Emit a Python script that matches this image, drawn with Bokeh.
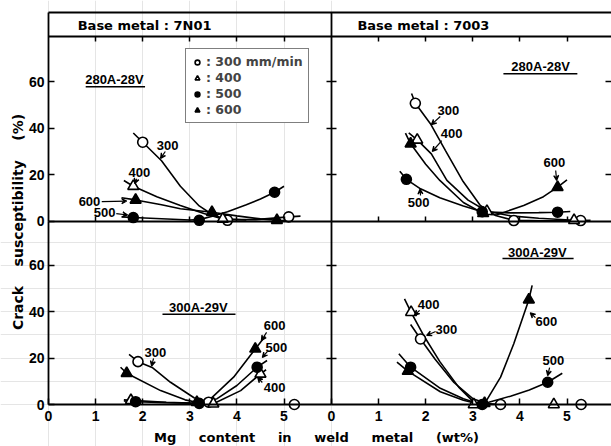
import math
from bokeh.plotting import figure
from bokeh.models import (Range1d, LinearAxis, FixedTicker, Label, Arrow, VeeHead,
                          Legend, LegendItem)
from bokeh.embed import file_html
from bokeh.resources import INLINE

# ---------------- data ----------------
speeds = ["300", "400", "500", "600"]
x_ticks = [0, 1, 2, 3, 4, 5]
y_ticks = [0, 20, 40, 60]
inner_x_ticks = [1, 2, 3, 4, 5]
inner_y_ticks = [20, 40, 60]

base_metals = ["7N01", "7003"]
conditions = ["280A-28V", "300A-29V"]

# Top-left : 7N01, 280A-28V  (points)
tl_300_x = [2.0, 3.8, 5.1];    tl_300_y = [34, 0.3, 1.8]
tl_400_x = [1.8, 3.7];         tl_400_y = [15, 0.9]
tl_500_x = [1.8, 3.2, 4.8];    tl_500_y = [1.5, 0.3, 12.4]
tl_600_x = [1.85, 3.47, 4.85]; tl_600_y = [9.1, 3.8, 0.3]
# curves
tl_300_cx = [1.8, 2.0, 2.4, 2.8, 3.2, 3.5, 3.8, 4.4, 5.1, 5.35]
tl_300_cy = [38, 34, 26, 15, 6.5, 2.5, 0.6, 0.6, 1.8, 2.1]
tl_400_cx = [1.6, 1.8, 2.3, 2.8, 3.3, 3.7, 4.2]
tl_400_cy = [17.5, 15, 10.5, 6.7, 3.2, 0.9, 0.4]
tl_500_cx = [1.55, 1.8, 2.4, 3.0, 3.2, 3.5, 3.8, 4.2, 4.5, 4.8, 5.0]
tl_500_cy = [1.8, 1.5, 1.0, 0.4, 0.6, 2.2, 4.0, 7.0, 9.5, 12.4, 15.0]
tl_600_cx = [1.55, 1.85, 2.4, 2.8, 3.47, 4.0, 4.5, 4.85, 5.0]
tl_600_cy = [10, 9.1, 7, 5.3, 3.8, 2.2, 0.9, 0.3, 0.2]

# Top-right : 7003, 280A-28V
tr_300_x = [1.78, 3.87, 5.29]; tr_300_y = [50.8, 0.2, 0.2]
tr_400_x = [1.82, 3.3, 5.15];  tr_400_y = [35, 4.2, 0.3]
tr_500_x = [1.59, 3.2, 4.8];   tr_500_y = [18, 4.0, 3.8]
tr_600_x = [1.68, 3.22, 4.8];  tr_600_y = [33.3, 3.3, 14.6]
tr_300_cx = [1.70, 1.78, 2.1, 2.42, 2.78, 3.16, 3.48, 3.87, 4.5, 5.29, 5.5]
tr_300_cy = [55, 50.8, 42, 30.4, 17.5, 6.7, 2.4, 0.3, 0.1, 0.2, 0.3]
tr_400_cx = [1.64, 1.82, 2.12, 2.45, 2.9, 3.3, 3.8, 4.4, 5.15, 5.35]
tr_400_cy = [38, 35, 29, 17.5, 9, 4.2, 2.2, 1.2, 0.3, 0.2]
tr_500_cx = [1.45, 1.59, 1.89, 2.3, 2.8, 3.2, 3.8, 4.4, 4.8, 5.07]
tr_500_cy = [21.5, 18, 13.9, 10, 6.5, 4.0, 3.5, 3.6, 3.8, 4.1]
tr_600_cx = [1.57, 1.68, 2.0, 2.3, 2.8, 3.22, 3.5, 4.08, 4.5, 4.8, 5.0]
tr_600_cy = [37.9, 33.3, 24.5, 17.5, 8, 3.3, 2.6, 6.7, 10.5, 14.6, 17.8]

# Bottom-left : 7N01, 300A-29V
bl_300_x = [1.9, 3.4, 5.22];   bl_300_y = [18.5, 1.0, 0]
bl_400_x = [1.75, 3.5, 4.5];   bl_400_y = [1.8, 0.3, 13.2]
bl_500_x = [1.85, 3.2, 4.43];  bl_500_y = [1.2, 0.5, 16.1]
bl_600_x = [1.66, 3.15, 4.39]; bl_600_y = [13.5, 1.0, 24.0]
bl_300_cx = [1.71, 1.9, 2.2, 2.59, 3.09, 3.4]
bl_300_cy = [21.6, 18.5, 16.0, 9.6, 2.9, 1.0]
bl_400_cx = [1.6, 1.75, 2.5, 3.5, 4.08, 4.5, 4.62]
bl_400_cy = [2.0, 1.8, 1.0, 0.3, 6.0, 13.2, 15.0]
bl_500_cx = [1.6, 1.85, 2.5, 3.2, 3.58, 4.0, 4.43, 4.64]
bl_500_cy = [1.5, 1.2, 0.8, 0.5, 2.5, 8.2, 16.1, 19.0]
bl_600_cx = [1.53, 1.66, 2.38, 2.9, 3.15, 3.44, 3.93, 4.39, 4.6]
bl_600_cy = [16.1, 13.5, 6.0, 2.0, 1.0, 2.4, 11.8, 24.0, 29.5]

# Bottom-right : 7003, 300A-29V
br_300_x = [1.89, 3.59, 5.30]; br_300_y = [28.3, 0, 0]
br_400_x = [1.69, 3.02, 4.72]; br_400_y = [39.8, 0, 0]
br_500_x = [1.68, 3.2, 4.59];  br_500_y = [16.1, 0, 9.6]
br_600_x = [1.62, 3.25, 4.19]; br_600_y = [14.4, 0.5, 45.2]
br_300_cx = [1.68, 1.89, 2.2, 2.6, 3.0, 3.3, 3.59]
br_300_cy = [34.5, 28.3, 19.5, 9.5, 2.5, 0.4, 0]
br_400_cx = [1.55, 1.69, 1.95, 2.3, 2.7, 3.02, 3.2]
br_400_cy = [45.6, 39.8, 30, 18.5, 7.5, 1.0, 0.2]
br_500_cx = [1.43, 1.68, 2.31, 2.8, 3.1, 3.34, 3.8, 4.2, 4.59, 4.9]
br_500_cy = [21.9, 16.1, 7.0, 2.5, 0.5, 1.0, 3.6, 6.3, 9.6, 13.5]
br_600_cx = [1.39, 1.62, 2.31, 2.8, 3.1, 3.27, 3.59, 3.87, 4.19, 4.26]
br_600_cy = [18.3, 14.4, 5.5, 1.8, 0.3, 1.0, 11.8, 26.2, 45.2, 51.4]

# ---------------- layout geometry ----------------
W, H = 611, 446
XL0, XR0, PXX = 48.0, 331.0, 47.1      # screen x of panel origins, px per wt%
YT0, YB0, PXY = 220.5, 404.0, 2.317    # screen y of panel origins, px per %

PANEL_W = (XR0 - XL0) / PXX
R_END = (W - XR0) / PXX
TOP_T = (YT0 - 36) / PXY       # top of upper panels (header bottom)
HEAD_T = (YT0 - 12) / PXY      # header top
HEAD_MID = (YT0 - 25) / PXY    # header text centre
BOT_TOP = (YB0 - YT0) / PXY    # top of lower panels

p = figure(width=W, height=H, output_backend="svg", toolbar_location=None,
           x_axis_location=None, y_axis_location=None, min_border=0,
           x_range=Range1d(-XL0 / PXX, (W - XL0) / PXX),
           y_range=Range1d(-(H - YB0) / PXY, YB0 / PXY))
p.extra_x_ranges = {"R": Range1d(-XR0 / PXX, (W - XR0) / PXX)}
p.extra_y_ranges = {"T": Range1d(-(H - YT0) / PXY, YT0 / PXY)}
p.outline_line_color = None
p.background_fill_color = "white"
p.border_fill_color = "white"

NUM_FONT = "Liberation Sans"
TXT_FONT = "DejaVu Sans"


def add_axis(side, xr, yr, loc, ticks, bounds, labels=False, tin=5, tout=0,
             line=True, standoff=4):
    ax = LinearAxis(x_range_name=xr, y_range_name=yr, fixed_location=loc,
                    bounds=bounds, ticker=FixedTicker(ticks=ticks, minor_ticks=[]))
    ax.axis_line_width = 1.8
    ax.axis_line_color = "black" if line else None
    ax.major_tick_line_width = 1.5
    ax.major_tick_line_color = "black"
    ax.major_tick_in = tin
    ax.major_tick_out = tout
    ax.minor_tick_in = 0
    ax.minor_tick_out = 0
    ax.major_label_standoff = standoff
    ax.major_label_text_font = NUM_FONT
    ax.major_label_text_font_style = "bold"
    ax.major_label_text_font_size = "14px"
    ax.major_label_text_color = "black"
    if not labels:
        ax.major_label_overrides = {t: "" for t in ticks}
    p.add_layout(ax, side)


# left axes (labelled)
add_axis("left", "default", "T", 0, y_ticks, (0, HEAD_T), labels=True, tin=6)
add_axis("left", "default", "default", 0, y_ticks, (0, BOT_TOP), labels=True, tin=6)
# divider between the two columns
add_axis("left", "R", "T", 0, inner_y_ticks, (0, HEAD_T), tin=5, tout=5)
add_axis("left", "R", "default", 0, inner_y_ticks, (0, BOT_TOP), tin=5, tout=5)
# bottom axes (labelled)
add_axis("below", "default", "default", 0, x_ticks, (0, PANEL_W), labels=True, tin=6, standoff=6)
add_axis("below", "R", "default", 0, x_ticks, (0, R_END), labels=True, tin=6, standoff=6)
# zero line of the upper panels
add_axis("below", "default", "T", 0, inner_x_ticks, (0, PANEL_W), tin=5)
add_axis("below", "R", "T", 0, inner_x_ticks, (0, R_END), tin=5)
# top of the upper panels
add_axis("above", "default", "T", TOP_T, inner_x_ticks, (0, PANEL_W), tin=5)
add_axis("above", "R", "T", TOP_T, inner_x_ticks, (0, R_END), tin=5)
# header top line
add_axis("above", "default", "T", HEAD_T, [], (0, (W - XL0) / PXX))
# right-edge ticks
add_axis("right", "R", "T", R_END, inner_y_ticks, (0, TOP_T), tin=6, line=False)
add_axis("right", "R", "default", R_END, inner_y_ticks, (0, BOT_TOP), tin=6, line=False)

panels = {
    "tl": ("default", "T", {
        "300": (tl_300_x, tl_300_y, tl_300_cx, tl_300_cy),
        "400": (tl_400_x, tl_400_y, tl_400_cx, tl_400_cy),
        "500": (tl_500_x, tl_500_y, tl_500_cx, tl_500_cy),
        "600": (tl_600_x, tl_600_y, tl_600_cx, tl_600_cy)}),
    "tr": ("R", "T", {
        "300": (tr_300_x, tr_300_y, tr_300_cx, tr_300_cy),
        "400": (tr_400_x, tr_400_y, tr_400_cx, tr_400_cy),
        "500": (tr_500_x, tr_500_y, tr_500_cx, tr_500_cy),
        "600": (tr_600_x, tr_600_y, tr_600_cx, tr_600_cy)}),
    "bl": ("default", "default", {
        "300": (bl_300_x, bl_300_y, bl_300_cx, bl_300_cy),
        "400": (bl_400_x, bl_400_y, bl_400_cx, bl_400_cy),
        "500": (bl_500_x, bl_500_y, bl_500_cx, bl_500_cy),
        "600": (bl_600_x, bl_600_y, bl_600_cx, bl_600_cy)}),
    "br": ("R", "default", {
        "300": (br_300_x, br_300_y, br_300_cx, br_300_cy),
        "400": (br_400_x, br_400_y, br_400_cx, br_400_cy),
        "500": (br_500_x, br_500_y, br_500_cx, br_500_cy),
        "600": (br_600_x, br_600_y, br_600_cx, br_600_cy)}),
}

marker_style = {"300": ("circle", "white", 10), "400": ("triangle", "white", 11),
                "500": ("circle", "black", 10), "600": ("triangle", "black", 11)}

# curves first
for key, (xr, yr, series) in panels.items():
    for s in speeds:
        _, _, cx, cy = series[s]
        p.line(cx, cy, line_color="black", line_width=1.6,
               x_range_name=xr, y_range_name=yr)

legend_renderers = {}
for key, (xr, yr, series) in panels.items():
    for s in speeds:
        px, py, _, _ = series[s]
        m, fc, sz = marker_style[s]
        r = p.scatter(px, py, marker=m, size=sz, fill_color=fc, line_color="black",
                      line_width=1.6, x_range_name=xr, y_range_name=yr)
        if key == "tl":
            legend_renderers[s] = r


def add_text(text, x, y, xr="default", yr="default", size="13px", font=NUM_FONT,
             align="center", baseline="middle", angle=0.0, units="data"):
    kw = dict(x=x, y=y, text=text, text_font=font, text_font_size=size,
              text_font_style="bold", text_color="black", text_align=align,
              text_baseline=baseline, angle=angle)
    if units == "screen":
        kw.update(x_units="screen", y_units="screen")
    else:
        kw.update(x_range_name=xr, y_range_name=yr)
    p.add_layout(Label(**kw))


def add_arrow(x0, y0, x1, y1, xr, yr):
    p.add_layout(Arrow(end=VeeHead(size=5, line_width=1.2, line_color="black",
                                   fill_color="black"),
                       x_start=x0, y_start=y0, x_end=x1, y_end=y1,
                       x_range_name=xr, y_range_name=yr,
                       line_width=1.2, line_color="black"))


# header
add_text("Base metal : " + base_metals[0], 0.62, HEAD_MID, "default", "T",
         font=TXT_FONT, align="left", baseline="middle")
add_text("Base metal : " + base_metals[1], 0.55, HEAD_MID, "R", "T",
         font=TXT_FONT, align="left", baseline="middle")

# condition labels with underline
cond_labels = [
    (conditions[0], 1.40, 61.1, 0.79, 2.05, 57.9, "default", "T"),
    (conditions[0], 4.44, 66.7, 3.65, 5.22, 63.6, "R", "T"),
    (conditions[1], 3.18, 41.9, 2.42, 3.97, 39.0, "default", "default"),
    (conditions[1], 4.37, 65.6, 3.63, 5.14, 63.0, "R", "default"),
]
for txt, x, y, u0, u1, uy, xr, yr in cond_labels:
    add_text(txt, x, y, xr, yr, size="13px")
    p.segment([u0], [uy], [u1], [uy], line_color="black", line_width=1.5,
              x_range_name=xr, y_range_name=yr)

# speed labels with arrows: text, tx, ty, arrow start, arrow end
speed_labels = [
    ("300", 2.53, 32.6, 2.48, 30.0, 2.38, 27.0, "default", "T"),
    ("400", 1.93, 20.9, 1.87, 18.2, 1.83, 16.2, "default", "T"),
    ("600", 0.87, 8.4, 1.13, 8.4, 1.66, 8.6, "default", "T"),
    ("500", 1.19, 3.7, 1.44, 3.2, 1.68, 2.6, "default", "T"),
    ("300", 2.48, 47.7, 2.31, 45.1, 2.12, 41.6, "R", "T"),
    ("400", 2.55, 37.8, 2.34, 34.7, 2.14, 30.0, "R", "T"),
    ("600", 4.73, 25.2, 4.76, 21.8, 4.78, 17.5, "R", "T"),
    ("500", 1.85, 8.0, 1.89, 11.0, 1.88, 13.8, "R", "T"),
    ("300", 2.27, 22.4, 2.23, 19.9, 2.19, 16.6, "default", "default"),
    ("600", 4.80, 34.1, 4.63, 31.1, 4.52, 27.6, "default", "default"),
    ("500", 4.84, 24.6, 4.65, 22.9, 4.54, 20.3, "default", "default"),
    ("400", 4.80, 7.3, 4.54, 9.5, 4.44, 11.7, "default", "default"),
    ("400", 2.06, 43.2, 1.87, 40.6, 1.76, 38.5, "R", "default"),
    ("300", 2.44, 32.4, 2.21, 31.5, 2.02, 29.8, "R", "default"),
    ("600", 4.56, 35.8, 4.33, 37.5, 4.22, 39.6, "R", "default"),
    ("500", 4.71, 19.0, 4.63, 15.9, 4.59, 12.5, "R", "default"),
]
for txt, tx, ty, x0, y0, x1, y1, xr, yr in speed_labels:
    add_text(txt, tx, ty, xr, yr, size="13px")
    add_arrow(x0, y0, x1, y1, xr, yr)

# axis titles
nb = "\u00a0"
x_title = (nb * 5).join(["Mg", "content", "in", "weld", "metal", "(wt%)"])
y_title = (nb * 4).join(["Crack", "susceptibility", "(%)"])
add_text(x_title, 316, H - 437, size="13px", font=TXT_FONT, units="screen")
add_text(y_title, 17, H - 221.5, size="14px", font=TXT_FONT, angle=math.pi / 2,
         units="screen")

# legend
legend = Legend(items=[
    LegendItem(label=": 300 mm/min", renderers=[legend_renderers["300"]]),
    LegendItem(label=": 400", renderers=[legend_renderers["400"]]),
    LegendItem(label=": 500", renderers=[legend_renderers["500"]]),
    LegendItem(label=": 600", renderers=[legend_renderers["600"]]),
], location=(185, H - 123))
legend.label_text_font = TXT_FONT
legend.label_text_font_style = "bold"
legend.label_text_font_size = "12.5px"
legend.glyph_width = 12
legend.glyph_height = 14
legend.label_height = 14
legend.label_standoff = 3
legend.spacing = 1
legend.padding = 5
legend.margin = 0
legend.border_line_color = "black"
legend.border_line_width = 1.5
legend.background_fill_color = "white"
legend.background_fill_alpha = 1.0
p.add_layout(legend)

open("out.html", "w").write(file_html(p, INLINE))
